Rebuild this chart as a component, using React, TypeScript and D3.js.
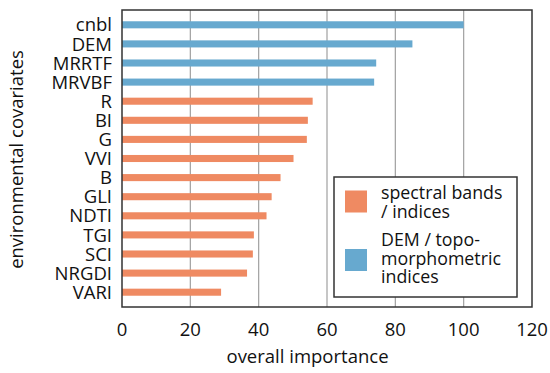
import React from "react";
import * as d3 from "d3";

const categories = ["cnbl","DEM","MRRTF","MRVBF","R","BI","G","VVI","B","GLI","NDTI","TGI","SCI","NRGDI","VARI"];
const values = [100, 85, 74.4, 73.8, 55.8, 54.4, 54.1, 50.2, 46.4, 43.8, 42.3, 38.6, 38.3, 36.6, 29.0];
const groups = ["topo","topo","topo","topo","spec","spec","spec","spec","spec","spec","spec","spec","spec","spec","spec"];
const xTicks = [0, 20, 40, 60, 80, 100, 120];
const gridTicks = [20, 40, 60, 80, 100];
const legendItems = [
  { key: "spec", lines: ["spectral bands", "/ indices"] },
  { key: "topo", lines: ["DEM / topo-", "morphometric", "indices"] },
];
const colors: Record<string, string> = { spec: "#ef8a62", topo: "#67a9cf" };

export default function App() {
  const W = 550, H = 373;
  const left = 122, right = 532, top = 10, bottom = 307;
  const x = d3.scaleLinear().domain([0, 120]).range([left, right]);
  const y = d3.scaleBand<string>().domain(categories).range([top, bottom]).paddingInner(0.63).paddingOuter(0.59);
  const font = "'Open Sans', 'Noto Sans', sans-serif";
  const fs = 18.5;
  return (
    <svg width={W} height={H} style={{ position: "absolute", left: 0, top: 0, background: "#fff" }} fontFamily={font}>
      <rect x={0} y={0} width={W} height={H} fill="#fff" />
      {gridTicks.map((t) => (
        <line key={t} x1={x(t)} x2={x(t)} y1={top} y2={bottom} stroke="#a0a0a0" strokeWidth={1.2} />
      ))}
      {categories.map((c, i) => (
        <rect key={c} x={x(0)} y={y(c)!} width={x(values[i]) - x(0)} height={y.bandwidth()} fill={colors[groups[i]]} />
      ))}
      <rect x={left} y={top} width={right - left} height={bottom - top} fill="none" stroke="#333" strokeWidth={1.5} />
      {categories.map((c) => (
        <text key={c} x={112} y={y(c)! + y.bandwidth() / 2} dy="0.36em" textAnchor="end" fontSize={fs} fill="#111">{c}</text>
      ))}
      {xTicks.map((t) => (
        <text key={t} x={x(t)} y={336} textAnchor="middle" fontSize={fs} fill="#111">{t}</text>
      ))}
      <text x={226.5} y={363} textAnchor="start" fontSize={fs} fill="#111">overall importance</text>
      <text transform={`translate(23,${(top + bottom) / 2 + 1}) rotate(-90)`} textAnchor="middle" fontSize={fs} fill="#111">environmental covariates</text>
      <rect x={334} y={177} width={183} height={120} fill="#fff" stroke="#333" strokeWidth={1.5} />
      {legendItems.map((it, i) => {
        const sy = i === 0 ? 190.5 : 249;
        const ty = i === 0 ? 199 : 246;
        return (
          <g key={it.key}>
            <rect x={345} y={sy} width={22} height={22} fill={colors[it.key]} />
            {it.lines.map((l, j) => (
              <text key={j} x={381} y={ty + j * 18.5} fontSize={17.8} fill="#111">{l}</text>
            ))}
          </g>
        );
      })}
    </svg>
  );
}
